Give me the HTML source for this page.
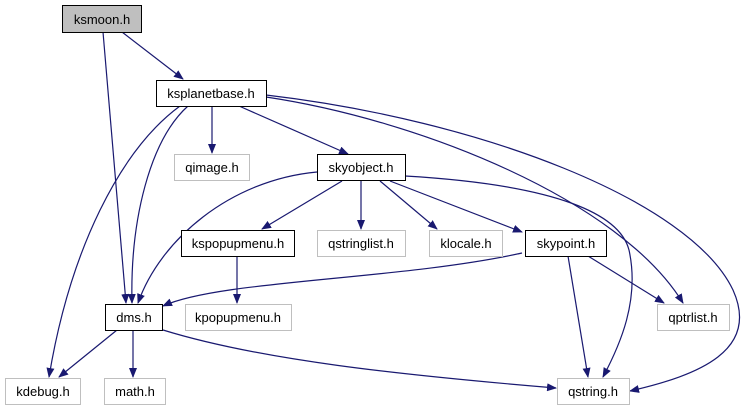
<!DOCTYPE html>
<html><head><style>body{margin:0;background:#fff}svg{display:block}text{font-family:"Liberation Sans",sans-serif;font-size:13px;text-anchor:middle}</style></head>
<body>
<svg width="747" height="411" viewBox="0 0 747 411">
<defs><marker id="a" markerWidth="10" markerHeight="8" refX="9" refY="4" orient="auto" markerUnits="userSpaceOnUse"><path d="M0,0L10,4L0,8z" fill="#191970"/></marker></defs>
<g fill="none" stroke="#191970" stroke-width="1.2" marker-end="url(#a)">
<path d="M122,32L183,79"/>
<path d="M103,32L126,303"/>
<path d="M212,106L212,153"/>
<path d="M239,106L348,154"/>
<path d="M188,106C150,140 130,220 132,303"/>
<path d="M180,106C120,150 70,250 49,377"/>
<path d="M266,97C420,120 620,200 683,303"/>
<path d="M266,95C480,120 690,200 733,290 760,350 700,375 630,391"/>
<path d="M317,172C230,180 160,240 138,303"/>
<path d="M342,181L262,229"/>
<path d="M361,181L361,229"/>
<path d="M380,181L437,229"/>
<path d="M390,181L522,232"/>
<path d="M405,176C560,185 620,215 629,250 640,300 620,345 603,377"/>
<path d="M237,256L237,303"/>
<path d="M522,253C400,280 220,280 163,306"/>
<path d="M568,256L588,377"/>
<path d="M588,256L664,303"/>
<path d="M117,330L59,377"/>
<path d="M133,330L133,377"/>
<path d="M163,330C260,360 400,375 556,388"/>
</g>
<g stroke-width="1">
<rect x="62.5" y="5.5" width="79" height="27" fill="#bfbfbf" stroke="#000"/>
<rect x="156.5" y="80.5" width="110" height="26" fill="#fff" stroke="#000"/>
<rect x="174.5" y="154.5" width="75" height="26" fill="#fff" stroke="#bfbfbf"/>
<rect x="317.5" y="154.5" width="88" height="26" fill="#fff" stroke="#000"/>
<rect x="181.5" y="230.5" width="113" height="26" fill="#fff" stroke="#000"/>
<rect x="317.5" y="230.5" width="88" height="26" fill="#fff" stroke="#bfbfbf"/>
<rect x="429.5" y="230.5" width="73" height="26" fill="#fff" stroke="#bfbfbf"/>
<rect x="525.5" y="230.5" width="81" height="26" fill="#fff" stroke="#000"/>
<rect x="105.5" y="304.5" width="57" height="26" fill="#fff" stroke="#000"/>
<rect x="185.5" y="304.5" width="106" height="26" fill="#fff" stroke="#bfbfbf"/>
<rect x="657.5" y="304.5" width="72" height="26" fill="#fff" stroke="#bfbfbf"/>
<rect x="5.5" y="378.5" width="75" height="26" fill="#fff" stroke="#bfbfbf"/>
<rect x="104.5" y="378.5" width="61" height="26" fill="#fff" stroke="#bfbfbf"/>
<rect x="557.5" y="378.5" width="72" height="26" fill="#fff" stroke="#bfbfbf"/>
</g>
<text x="102" y="24">ksmoon.h</text>
<text x="211" y="98">ksplanetbase.h</text>
<text x="212" y="172">qimage.h</text>
<text x="361" y="172">skyobject.h</text>
<text x="238" y="248">kspopupmenu.h</text>
<text x="361" y="248">qstringlist.h</text>
<text x="466" y="248">klocale.h</text>
<text x="566" y="248">skypoint.h</text>
<text x="134" y="322">dms.h</text>
<text x="238" y="322">kpopupmenu.h</text>
<text x="693" y="322">qptrlist.h</text>
<text x="43" y="396">kdebug.h</text>
<text x="135" y="396">math.h</text>
<text x="593" y="396">qstring.h</text>
</svg>
</body></html>
